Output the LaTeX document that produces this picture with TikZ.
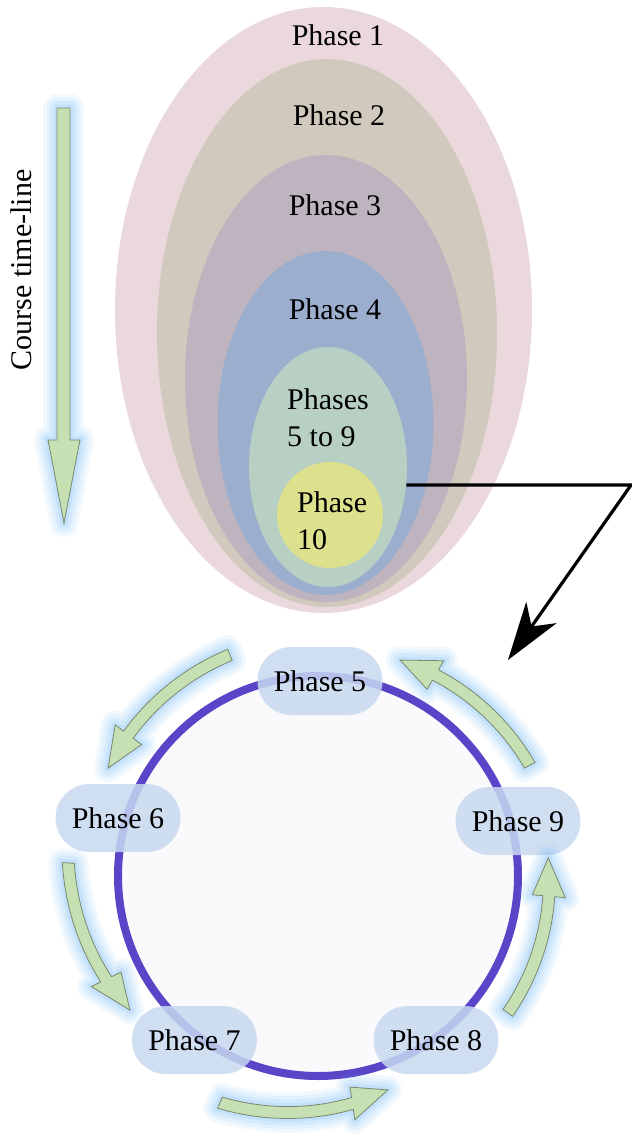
\documentclass[tikz,border=0pt]{standalone}
\usepackage{fontspec}
\setmainfont{Liberation Serif}
\usetikzlibrary{shapes.geometric,arrows.meta}

\definecolor{ringpink}{RGB}{235,216,221}
\definecolor{ringbeige}{RGB}{209,201,190}
\definecolor{ringmauve}{RGB}{190,180,191}
\definecolor{ringblue}{RGB}{156,174,205}
\definecolor{ringgreen}{RGB}{184,207,196}
\definecolor{ringyellow}{RGB}{221,224,140}
\definecolor{arrowgreen}{RGB}{198,224,180}
\definecolor{arrowedge}{RGB}{120,135,110}
\definecolor{glowblue}{RGB}{100,180,250}
\definecolor{cyclepurple}{RGB}{90,68,200}
\definecolor{pillblue}{RGB}{200,217,240}
\definecolor{discfill}{RGB}{250,250,253}

\tikzset{
  layer/.style={ellipse, inner sep=0pt, draw=none},
  lbl/.style={font=\fontsize{30}{37}\selectfont, inner sep=0pt, align=left},
  glow/.style={
    preaction={draw=glowblue, fill=none, draw opacity=0.08, line width=28pt, line join=round},
    preaction={draw=glowblue, fill=none, draw opacity=0.10, line width=21pt, line join=round},
    preaction={draw=glowblue, fill=none, draw opacity=0.12, line width=14pt, line join=round},
    preaction={draw=glowblue, fill=none, draw opacity=0.14, line width=7pt, line join=round}},
  blockarrow/.style={glow, fill=arrowgreen, draw=arrowedge, line width=0.8pt},
  phase/.style={rectangle, rounded corners=33.9pt, minimum width=125pt, minimum height=68pt,
    fill=pillblue, fill opacity=0.85, text opacity=1, inner sep=0pt,
    font=\fontsize{30}{37}\selectfont},
  pointer/.style={line width=3.2pt, -{Stealth[length=58pt,width=37pt,inset=17pt]}},
}

% curved block arrow around the cycle centre (318,876)
% #1 tail angle, #2 tip angle, #3 tail radius, #4 tip radius (screen angles)
\newcommand\cyclearrow[4]{%
  \pgfmathsetmacro\cAa{#1}%
  \pgfmathsetmacro\cAb{#2}%
  \pgfmathsetmacro\cAh{#2-9.5}%
  \pgfmathsetmacro\cRa{#3}%
  \pgfmathsetmacro\cRb{#4}%
  \pgfmathsetmacro\cRh{#3+(#4-#3)*(\cAh-#1)/(#2-#1)}%
  \draw[blockarrow]
    plot[domain=\cAa:\cAh, samples=24]
      ({318+(\cRa+(\cRb-\cRa)*(\x-\cAa)/(\cAb-\cAa)+6)*cos(\x)},
       {876-(\cRa+(\cRb-\cRa)*(\x-\cAa)/(\cAb-\cAa)+6)*sin(\x)})
    -- ({318+(\cRh+16.5)*cos(\cAh)}, {876-(\cRh+16.5)*sin(\cAh)})
    -- ({318+\cRb*cos(\cAb)}, {876-\cRb*sin(\cAb)})
    -- ({318+(\cRh-16.5)*cos(\cAh)}, {876-(\cRh-16.5)*sin(\cAh)})
    -- plot[domain=\cAh:\cAa, samples=24]
      ({318+(\cRa+(\cRb-\cRa)*(\x-\cAa)/(\cAb-\cAa)-6)*cos(\x)},
       {876-(\cRa+(\cRb-\cRa)*(\x-\cAa)/(\cAb-\cAa)-6)*sin(\x)})
    -- cycle;
}

\begin{document}
\begin{tikzpicture}[x=1pt,y=-1pt]
\fill[white] (0,0) rectangle (632,1136);
\useasboundingbox (0,0) rectangle (632,1136);

% nested phases
\node[layer, fill=ringpink,   minimum width=417pt, minimum height=606pt] (e1) at (323.5,310) {};
\node[layer, fill=ringbeige,  minimum width=340pt, minimum height=548pt] (e2) at (327,333) {};
\node[layer, fill=ringmauve,  minimum width=282pt, minimum height=447pt] (e3) at (326,378.5) {};
\node[layer, fill=ringblue,   minimum width=216pt, minimum height=344pt] (e4) at (325.5,423) {};
\node[layer, fill=ringgreen,  minimum width=158pt, minimum height=240pt] (e5) at (328,467) {};
\node[layer, fill=ringyellow, minimum width=106pt, minimum height=106pt] (e6) at (330,515) {};

\node[lbl] (t1) at (338,35) {Phase 1};
\node[lbl] (t2) at (339,115) {Phase 2};
\node[lbl] (t3) at (335,205) {Phase 3};
\node[lbl] (t4) at (335,309) {Phase 4};
\node[lbl, anchor=west] (t5) at (287,418) {Phases\\5 to 9};
\node[lbl, anchor=west] (t10) at (297,521) {Phase\\10};

% time-line arrow
\draw[blockarrow] (57,108) -- (70,108) -- (70,440) -- (80,440) -- (64,523)
  -- (48,440) -- (57,440) -- cycle;
\node[lbl, rotate=90] (tl) at (21,270) {Course time-line};

% pointer from phases 5 to 9 down to the cycle
\coordinate (kink) at (631,0);
\coordinate (drop) at (508,660);
\draw[pointer] (e5.-13) -- (e5.-13 -| kink) -- (drop);

% the cycle of phases 5 to 9
\node[circle, minimum size=400pt, inner sep=0pt, fill=discfill,
      draw=cyclepurple, line width=8pt] (ring) at (318,876) {};

\node[phase] (p5) at (320,681) {Phase 5};
\node[phase] (p6) at (118,818) {Phase 6};
\node[phase] (p7) at (194.5,1040) {Phase 7};
\node[phase] (p8) at (436,1040) {Phase 8};
\node[phase] (p9) at (518,821) {Phase 9};

\cyclearrow{111.7}{152.8}{238}{236}
\cyclearrow{177}{215.5}{250}{231}
\cyclearrow{246.6}{288.1}{247}{225}
\cyclearrow{324.2}{364.5}{234}{231}
\cyclearrow{27.6}{69.2}{239}{231}
\end{tikzpicture}
\end{document}
